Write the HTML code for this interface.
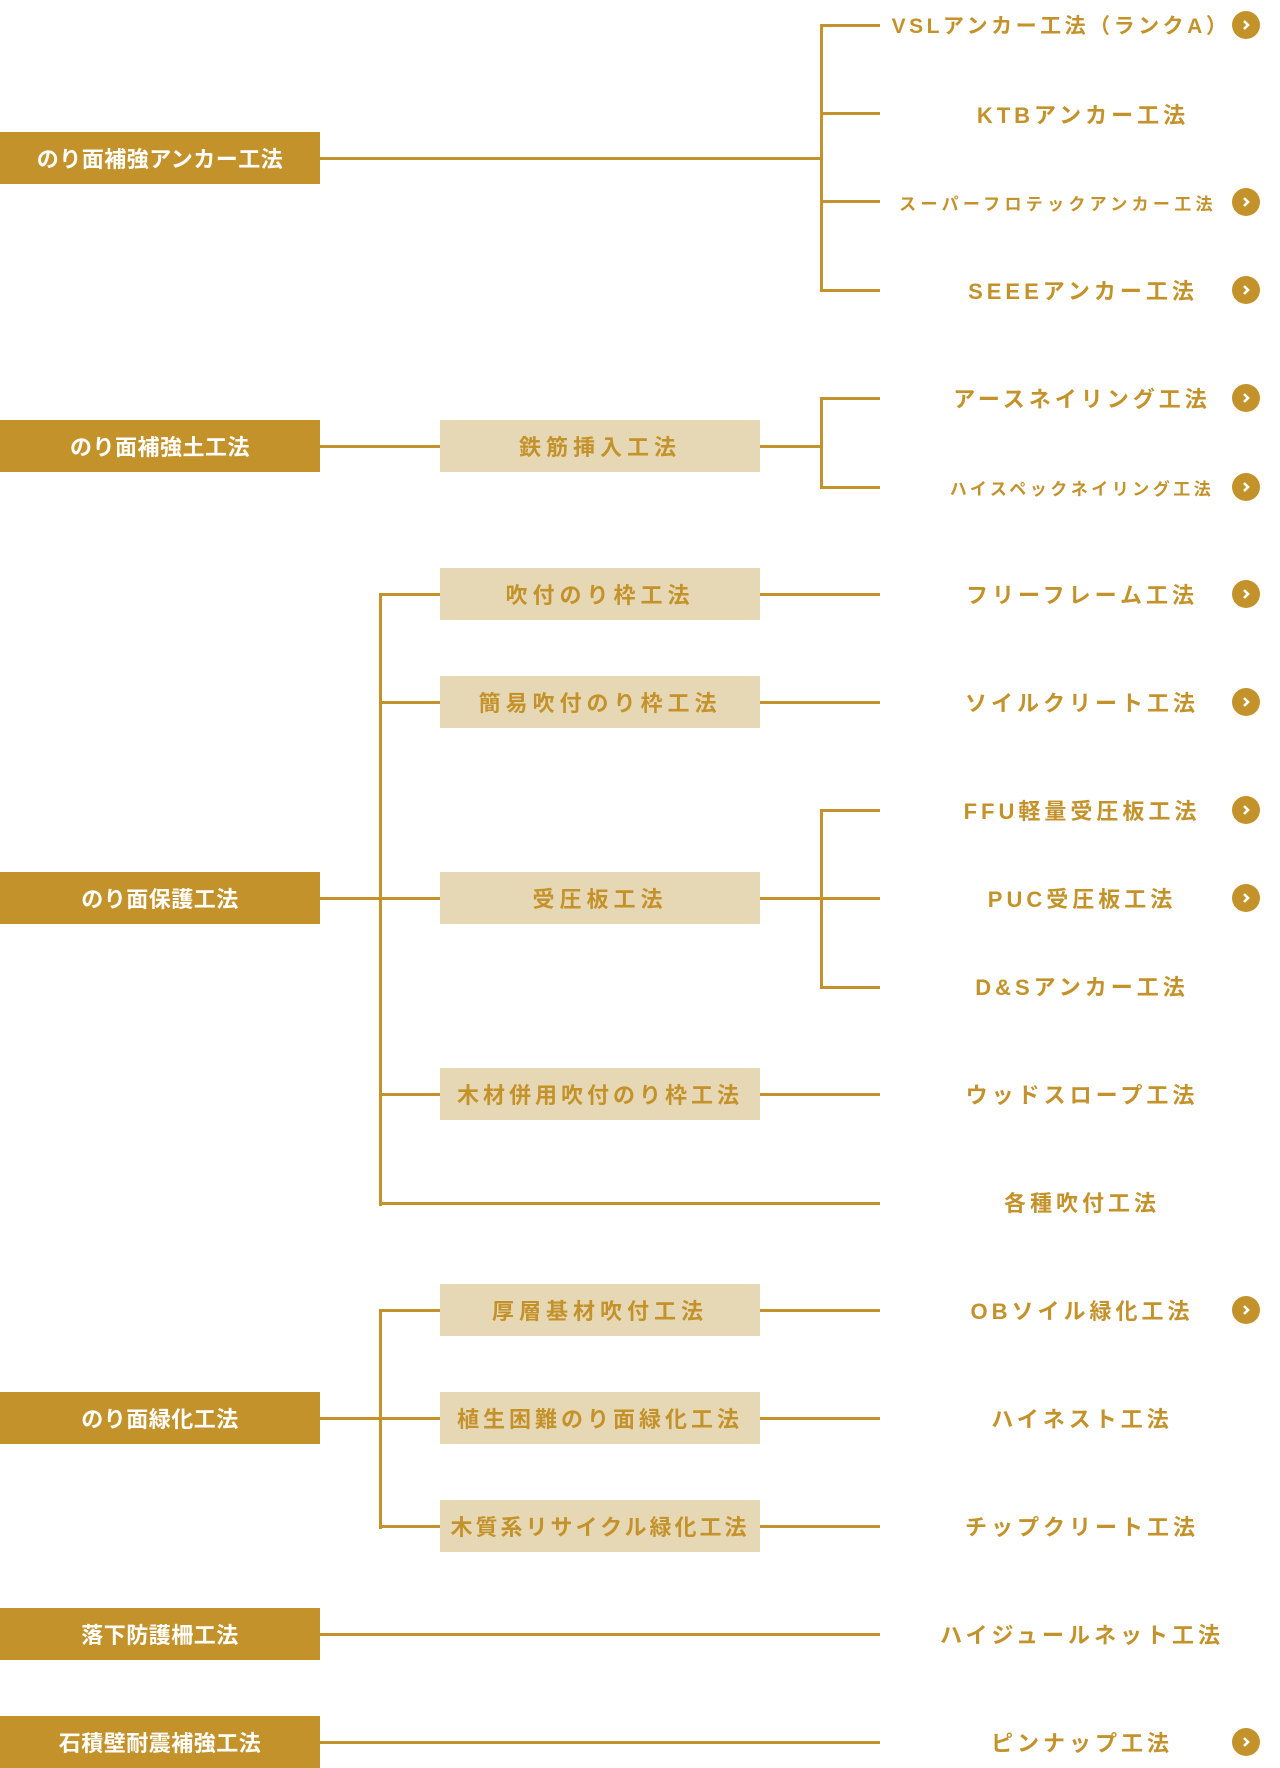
<!DOCTYPE html>
<html><head><meta charset="utf-8"><style>
*{margin:0;padding:0;box-sizing:border-box}
body{width:1280px;height:1768px;background:#fff;position:relative;overflow:hidden;font-family:"Liberation Sans","Noto Sans CJK JP",sans-serif;font-weight:bold}
.h{position:absolute;height:3px;background:#c4922a}
.v{position:absolute;width:3px;background:#c4922a}
.L{position:absolute;left:0;width:320px;height:52px;background:#c4922a;color:#fff;font-size:22px;letter-spacing:0.5px;display:flex;align-items:center;justify-content:center}
.M{position:absolute;left:440px;width:320px;height:52px;background:#e6d8b5;color:#c4922a;font-size:22px;letter-spacing:5px;display:flex;align-items:center;justify-content:center;white-space:nowrap}
.R{position:absolute;left:880px;width:400px;height:40px;color:#c4922a;font-size:22px;letter-spacing:4px;display:flex;align-items:center;justify-content:center;white-space:nowrap;margin-left:-199px}
.c{position:absolute;left:1232px;width:28px;height:28px;border-radius:50%;background:#c4922a;display:flex;align-items:center;justify-content:center}
.c svg{width:12px;height:12px}
</style></head><body>
<div class="L" style="top:132px">のり面補強アンカー工法</div>
<div class="h" style="left:320px;width:502px;top:157px"></div>
<div class="v" style="left:820px;top:24px;height:268px"></div>
<div class="h" style="left:820px;width:60px;top:24px"></div>
<div class="h" style="left:820px;width:60px;top:112px"></div>
<div class="h" style="left:820px;width:60px;top:200px"></div>
<div class="h" style="left:820px;width:60px;top:289px"></div>
<div class="R" style="top:5px;left:1060px;letter-spacing:3.5px;font-size:21px">VSLアンカー工法（ランクA）</div><div class="c" style="top:11px"><svg viewBox="0 0 12 12"><polyline points="4,2 8,6 4,10" fill="none" stroke="#fff" stroke-width="2.6"/></svg></div>
<div class="R" style="top:94px;left:1082px">KTBアンカー工法</div>
<div class="R" style="top:182px;left:1057px;font-size:17px;letter-spacing:4.3px">スーパーフロテックアンカー工法</div><div class="c" style="top:188px"><svg viewBox="0 0 12 12"><polyline points="4,2 8,6 4,10" fill="none" stroke="#fff" stroke-width="2.6"/></svg></div>
<div class="R" style="top:270px;left:1082px">SEEEアンカー工法</div><div class="c" style="top:276px"><svg viewBox="0 0 12 12"><polyline points="4,2 8,6 4,10" fill="none" stroke="#fff" stroke-width="2.6"/></svg></div>
<div class="L" style="top:420px">のり面補強土工法</div>
<div class="h" style="left:320px;width:120px;top:445px"></div>
<div class="M" style="top:420px">鉄筋挿入工法</div>
<div class="h" style="left:760px;width:62px;top:445px"></div>
<div class="v" style="left:820px;top:397px;height:92px"></div>
<div class="h" style="left:820px;width:60px;top:397px"></div>
<div class="h" style="left:820px;width:60px;top:486px"></div>
<div class="R" style="top:378px;left:1081px">アースネイリング工法</div><div class="c" style="top:384px"><svg viewBox="0 0 12 12"><polyline points="4,2 8,6 4,10" fill="none" stroke="#fff" stroke-width="2.6"/></svg></div>
<div class="R" style="top:467px;left:1081px;font-size:17px;letter-spacing:3.5px">ハイスペックネイリング工法</div><div class="c" style="top:473px"><svg viewBox="0 0 12 12"><polyline points="4,2 8,6 4,10" fill="none" stroke="#fff" stroke-width="2.6"/></svg></div>
<div class="L" style="top:872px">のり面保護工法</div>
<div class="h" style="left:320px;width:120px;top:897px"></div>
<div class="v" style="left:379px;top:593px;height:613px"></div>
<div class="h" style="left:379px;width:61px;top:593px"></div>
<div class="h" style="left:379px;width:61px;top:701px"></div>
<div class="h" style="left:379px;width:61px;top:1093px"></div>
<div class="h" style="left:379px;width:501px;top:1202px"></div>
<div class="M" style="top:568px">吹付のり枠工法</div>
<div class="M" style="top:676px">簡易吹付のり枠工法</div>
<div class="M" style="top:872px">受圧板工法</div>
<div class="M" style="top:1068px;letter-spacing:4px">木材併用吹付のり枠工法</div>
<div class="h" style="left:760px;width:120px;top:593px"></div>
<div class="h" style="left:760px;width:120px;top:701px"></div>
<div class="h" style="left:760px;width:120px;top:897px"></div>
<div class="h" style="left:760px;width:120px;top:1093px"></div>
<div class="v" style="left:820px;top:809px;height:180px"></div>
<div class="h" style="left:820px;width:60px;top:809px"></div>
<div class="h" style="left:820px;width:60px;top:986px"></div>
<div class="R" style="top:574px;left:1081px">フリーフレーム工法</div><div class="c" style="top:580px"><svg viewBox="0 0 12 12"><polyline points="4,2 8,6 4,10" fill="none" stroke="#fff" stroke-width="2.6"/></svg></div>
<div class="R" style="top:682px;left:1081px">ソイルクリート工法</div><div class="c" style="top:688px"><svg viewBox="0 0 12 12"><polyline points="4,2 8,6 4,10" fill="none" stroke="#fff" stroke-width="2.6"/></svg></div>
<div class="R" style="top:790px;left:1081px">FFU軽量受圧板工法</div><div class="c" style="top:796px"><svg viewBox="0 0 12 12"><polyline points="4,2 8,6 4,10" fill="none" stroke="#fff" stroke-width="2.6"/></svg></div>
<div class="R" style="top:878px;left:1081px">PUC受圧板工法</div><div class="c" style="top:884px"><svg viewBox="0 0 12 12"><polyline points="4,2 8,6 4,10" fill="none" stroke="#fff" stroke-width="2.6"/></svg></div>
<div class="R" style="top:966px;left:1081px">D&amp;Sアンカー工法</div>
<div class="R" style="top:1074px;left:1081px">ウッドスロープ工法</div>
<div class="R" style="top:1182px;left:1081px">各種吹付工法</div>
<div class="L" style="top:1392px">のり面緑化工法</div>
<div class="h" style="left:320px;width:120px;top:1417px"></div>
<div class="v" style="left:379px;top:1309px;height:220px"></div>
<div class="h" style="left:379px;width:61px;top:1309px"></div>
<div class="h" style="left:379px;width:61px;top:1525px"></div>
<div class="M" style="top:1284px">厚層基材吹付工法</div>
<div class="M" style="top:1392px;letter-spacing:4px">植生困難のり面緑化工法</div>
<div class="M" style="top:1500px;letter-spacing:3px">木質系リサイクル緑化工法</div>
<div class="h" style="left:760px;width:120px;top:1309px"></div>
<div class="h" style="left:760px;width:120px;top:1417px"></div>
<div class="h" style="left:760px;width:120px;top:1525px"></div>
<div class="R" style="top:1290px;left:1081px">OBソイル緑化工法</div><div class="c" style="top:1296px"><svg viewBox="0 0 12 12"><polyline points="4,2 8,6 4,10" fill="none" stroke="#fff" stroke-width="2.6"/></svg></div>
<div class="R" style="top:1398px;left:1081px">ハイネスト工法</div>
<div class="R" style="top:1506px;left:1081px">チップクリート工法</div>
<div class="L" style="top:1608px">落下防護柵工法</div>
<div class="h" style="left:320px;width:560px;top:1633px"></div>
<div class="R" style="top:1614px;left:1081px">ハイジュールネット工法</div>
<div class="L" style="top:1716px">石積壁耐震補強工法</div>
<div class="h" style="left:320px;width:560px;top:1741px"></div>
<div class="R" style="top:1722px;left:1081px">ピンナップ工法</div><div class="c" style="top:1728px"><svg viewBox="0 0 12 12"><polyline points="4,2 8,6 4,10" fill="none" stroke="#fff" stroke-width="2.6"/></svg></div>
</body></html>
